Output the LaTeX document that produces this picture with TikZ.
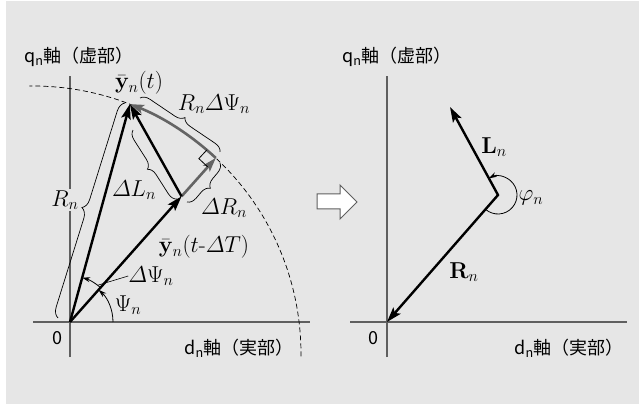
\documentclass[tikz,border=0pt]{standalone}
\usepackage{fix-cm}
\usepackage{amsmath}
\usepackage[no-math]{fontspec}
\newfontfamily\jpfont{Noto Sans CJK JP}
\usepackage{tikz}
\usetikzlibrary{arrows.meta, positioning, calc, decorations.pathreplacing}
\definecolor{panel}{RGB}{230, 230, 230}
\definecolor{axisgray}{RGB}{95, 95, 95}
\definecolor{deltagray}{RGB}{100, 100, 100}
\tikzset{
    axis/.style={draw=axisgray, line width=1.3pt},
    vector/.style={draw, line width=2.4pt, >={Stealth[length=15pt, width=9.5pt, inset=3pt]}, ->},
    delta/.style={draw=deltagray, line width=2.6pt, -{Stealth[length=14pt, width=9pt, inset=3pt]}},
    anglearc/.style={draw, line width=0.8pt, -{Stealth[length=8pt, width=5pt]}},
    bracket/.style={draw, line width=0.7pt, decorate, decoration={brace, amplitude=#1}},
    bracket/.default=9pt,
    rim/.style={draw, line width=0.7pt, dash pattern=on 5pt off 3pt},
    axislabel/.style={font=\jpfont\fontsize{18}{20}\selectfont, inner sep=0pt},
    mathlabel/.style={font=\fontsize{23}{27}\selectfont, inner sep=0pt},
    hollow/.style={draw=axisgray, fill=white, line width=1pt}
}

\begin{document}
\begin{tikzpicture}[x=1pt, y=1pt]
    \useasboundingbox (0,0) rectangle (639,404);
    \fill[panel] (6,0) rectangle (639,403);

    % Left plane
    \coordinate (o1) at (70,82);
    \coordinate (c1) at (33,50);
    \coordinate (x1w) at (33,82);
    \coordinate (x1e) at (310,82);
    \coordinate (y1s) at (70,47);
    \coordinate (y1n) at (70,328);
    \coordinate (tip) at ($(c1)+(68.8:268pt)$);
    \coordinate (rimpt) at ($(c1)+(47:268pt)$);
    \coordinate (prev) at ($(o1)+(48.4:168pt)$);

    \draw[axis] (x1w) -- (x1e);
    \draw[axis] (y1s) -- (y1n);
    \draw[rim] ($(c1)+(-0.5:268pt)$) arc[start angle=-0.5, end angle=90.8, radius=268pt];

    \node[axislabel, anchor=west] (q1) at (24,347) {q\textsubscript{n}軸（虚部）};
    \node[axislabel, anchor=east] (d1) at (294,56) {d\textsubscript{n}軸（実部）};
    \node[axislabel] (zero1) at (57,66) {0};
    \node[mathlabel, fill=panel, inner sep=1pt] (rlen) at (65,204) {$R_n$};

    % Vectors
    \draw[delta] (rimpt) arc[start angle=47, end angle=68.8, radius=268pt];
    \draw[delta] (prev) -- (rimpt);
    \draw[vector] (o1) -- (tip);
    \draw[vector] (o1) -- (prev);
    \draw[vector] (prev) -- (tip);
    \draw[line width=0.8pt] ($(rimpt)+(137:12pt)$) -- ($(rimpt)+(137:12pt)+(227:12pt)$) -- ($(rimpt)+(227:12pt)$);

    % Angles
    \draw[anglearc] ($(o1)+(0:43pt)$) arc[start angle=0, end angle=48.4, radius=43pt];
    \draw[anglearc] ($(o1)+(48.4:46pt)$) arc[start angle=48.4, end angle=74.6, radius=46pt];
    \coordinate (dpsiend) at ($(o1)+(53:46pt)$);

    % Braces
    \draw[bracket=10pt] (58,86) -- (125,301);
    \draw[bracket] (177,205) -- (133,274);
    \draw[bracket] (140,306) -- (220,252);
    \draw[bracket] (220,241) -- (187,202);

    \node[mathlabel] (ynow) at (139,321) {$\bar{\mathbf{y}}_n(t)$};
    \node[mathlabel] (arclen) at (214,300) {$R_n\varDelta\Psi_n$};
    \node[mathlabel] (dl) at (134,214) {$\varDelta L_n$};
    \node[mathlabel] (dr) at (224,196) {$\varDelta R_n$};
    \node[mathlabel] (yprev) at (204,157) {$\bar{\mathbf{y}}_n(t\text{-}\varDelta T)$};
    \node[mathlabel] (dpsi) at (151,128) {$\varDelta\Psi_n$};
    \node[mathlabel] (psi) at (128,99) {$\Psi_n$};
    \draw[line width=0.6pt] (dpsi.west) -- (dpsiend);

    % Hollow arrow
    \draw[hollow] (317,195) -- (340,195) -- (340,185) -- (357,202) -- (340,219) -- (340,210) -- (317,210) -- cycle;

    % Right plane
    \coordinate (o2) at (387,82);
    \coordinate (x2w) at (350,82);
    \coordinate (x2e) at (627,82);
    \coordinate (y2s) at (387,47);
    \coordinate (y2n) at (387,328);
    \coordinate (knee) at (498,209);
    \coordinate (ltip) at (450,297);

    \draw[axis] (x2w) -- (x2e);
    \draw[axis] (y2s) -- (y2n);
    \draw[vector, <->, line join=miter] (ltip) -- (knee) -- (o2);
    \draw[anglearc] ($(knee)+(-131.2:19pt)$) arc[start angle=-131.2, end angle=118.6, radius=19pt];

    \node[axislabel, anchor=west] (q2) at (342,347) {q\textsubscript{n}軸（虚部）};
    \node[axislabel, anchor=east] (d2) at (624,56) {d\textsubscript{n}軸（実部）};
    \node[axislabel] (zero2) at (373,66) {0};
    \node[mathlabel] (lvec) at (494,257) {$\mathbf{L}_n$};
    \node[mathlabel] (rvec) at (464,132) {$\mathbf{R}_n$};
    \node[mathlabel] (phi) at (531,206) {$\varphi_n$};
\end{tikzpicture}
\end{document}
